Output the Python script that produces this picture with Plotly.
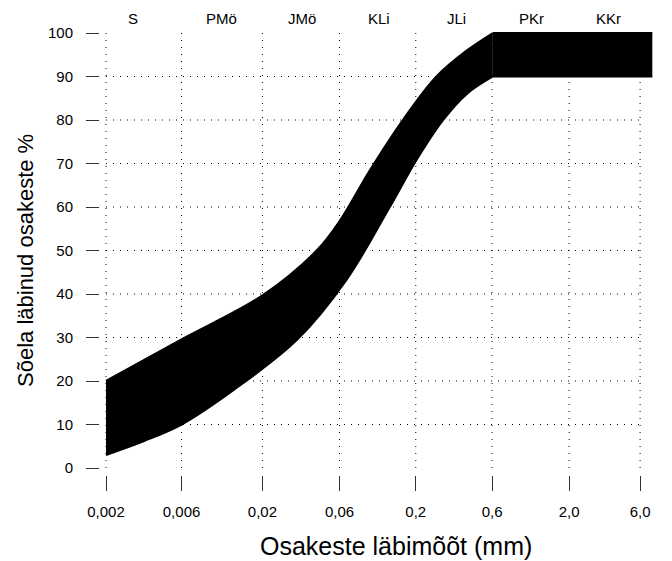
import plotly.graph_objects as go

W, H = 672, 561

# ---- data ----
tick_labels = ["0,002", "0,006", "0,02", "0,06", "0,2", "0,6", "2,0", "6,0"]
tick_pos = [0, 0.99, 2.05, 3.06, 4.06, 5.06, 6.07, 7.0]
y_ticks = [0, 10, 20, 30, 40, 50, 60, 70, 80, 90, 100]
grid_y = [10, 20, 30, 40, 50, 60, 70, 80, 90]

top_labels = ["S", "PMö", "JMö", "KLi", "JLi", "PKr", "KKr"]
top_label_pos = [0.35, 1.52, 2.57, 3.58, 4.60, 5.58, 6.59]

# curved part of the band (up to 0,6 mm)
upper_x = [0, 0.97, 2.06, 2.76, 3.07, 3.46, 3.89, 4.33, 4.73, 5.07]
upper_y = [20, 29.4, 39.8, 50, 57, 68.5, 80, 90, 96, 100]
lower_x = [0, 0.5, 0.99, 1.67, 2.50, 3.15, 3.72, 4.07, 4.42, 4.73, 5.07]
lower_y = [3, 6.2, 10, 17.9, 29.4, 43.2, 60, 70.8, 80, 86, 90]
# flat part of the band (0,6 mm and coarser)
flat_x = [5.07, 7.16]
flat_upper = [100, 100]
flat_lower = [90, 90]

FONT = "Liberation Sans, Arial, Helvetica, sans-serif"

# pixel geometry of the plotting region
px_per_unit_x = 76.3
x0_px = 106.0
px_per_unit_y = 4.35
y0_px = 468.0
dom_l, dom_r = 100, 656
dom_t, dom_b = 28, 473

xr = [(dom_l - x0_px) / px_per_unit_x, (dom_r - x0_px) / px_per_unit_x]
yr = [(y0_px - dom_b) / px_per_unit_y, (y0_px - dom_t) / px_per_unit_y]

fig = go.Figure()
band_line = dict(color="black", width=2, shape="spline", smoothing=1)
flat_line = dict(color="black", width=2)
fig.add_trace(go.Scatter(x=lower_x, y=lower_y, mode="lines", line=band_line,
                         hoverinfo="skip", showlegend=False))
fig.add_trace(go.Scatter(x=upper_x, y=upper_y, mode="lines", fill="tonexty",
                         fillcolor="black", line=band_line,
                         hoverinfo="skip", showlegend=False))
fig.add_trace(go.Scatter(x=flat_x, y=flat_lower, mode="lines", line=flat_line,
                         hoverinfo="skip", showlegend=False))
fig.add_trace(go.Scatter(x=flat_x, y=flat_upper, mode="lines", fill="tonexty",
                         fillcolor="black", line=flat_line,
                         hoverinfo="skip", showlegend=False))

shapes = []
for xp in tick_pos:
    shapes.append(dict(type="line", xref="x", yref="y", x0=xp, x1=xp, y0=0, y1=100,
                       line=dict(color="black", width=1, dash="1px,6px"), layer="below"))
for gy in grid_y:
    shapes.append(dict(type="line", xref="x", yref="y", x0=tick_pos[0], x1=tick_pos[-1],
                       y0=gy, y1=gy,
                       line=dict(color="black", width=1, dash="1px,6px"), layer="below"))

annotations = []
for lab, xp in zip(top_labels, top_label_pos):
    annotations.append(dict(text=lab, x=xp, xref="x", y=(H - 19) / H, yref="paper",
                            showarrow=False, xanchor="center", yanchor="middle",
                            font=dict(family=FONT, size=15, color="black")))
annotations.append(dict(text="Osakeste läbimõõt (mm)", x=396 / W, y=(H - 546) / H,
                        xref="paper", yref="paper", showarrow=False,
                        xanchor="center", yanchor="middle", borderpad=0,
                        font=dict(family=FONT, size=25, color="black")))
annotations.append(dict(text="Sõela läbinud osakeste %", x=25 / W, y=(H - 261) / H,
                        xref="paper", yref="paper", showarrow=False, textangle=-90,
                        xanchor="center", yanchor="middle", borderpad=0,
                        font=dict(family=FONT, size=22, color="black")))

fig.update_layout(
    width=W, height=H,
    margin=dict(l=0, r=0, t=0, b=0, autoexpand=False),
    paper_bgcolor="white", plot_bgcolor="white",
    shapes=shapes, annotations=annotations,
    xaxis=dict(domain=[dom_l / W, dom_r / W], range=xr, anchor="free",
               position=(H - 475) / H, showgrid=False, zeroline=False, showline=False,
               automargin=False,
               tickmode="array", tickvals=tick_pos, ticktext=tick_labels,
               ticks="outside", ticklen=15, tickwidth=1.2, tickcolor="#333",
               ticklabelstandoff=8,
               tickfont=dict(family=FONT, size=15, color="black")),
    yaxis=dict(domain=[(H - dom_b) / H, (H - dom_t) / H], range=yr, anchor="free",
               position=99 / W, showgrid=False, zeroline=False, showline=False,
               automargin=False,
               tickmode="array", tickvals=y_ticks,
               ticks="outside", ticklen=13, tickwidth=1.2, tickcolor="#333",
               ticklabelstandoff=10,
               tickfont=dict(family=FONT, size=15, color="black")),
)

fig.write_html("out.html")
